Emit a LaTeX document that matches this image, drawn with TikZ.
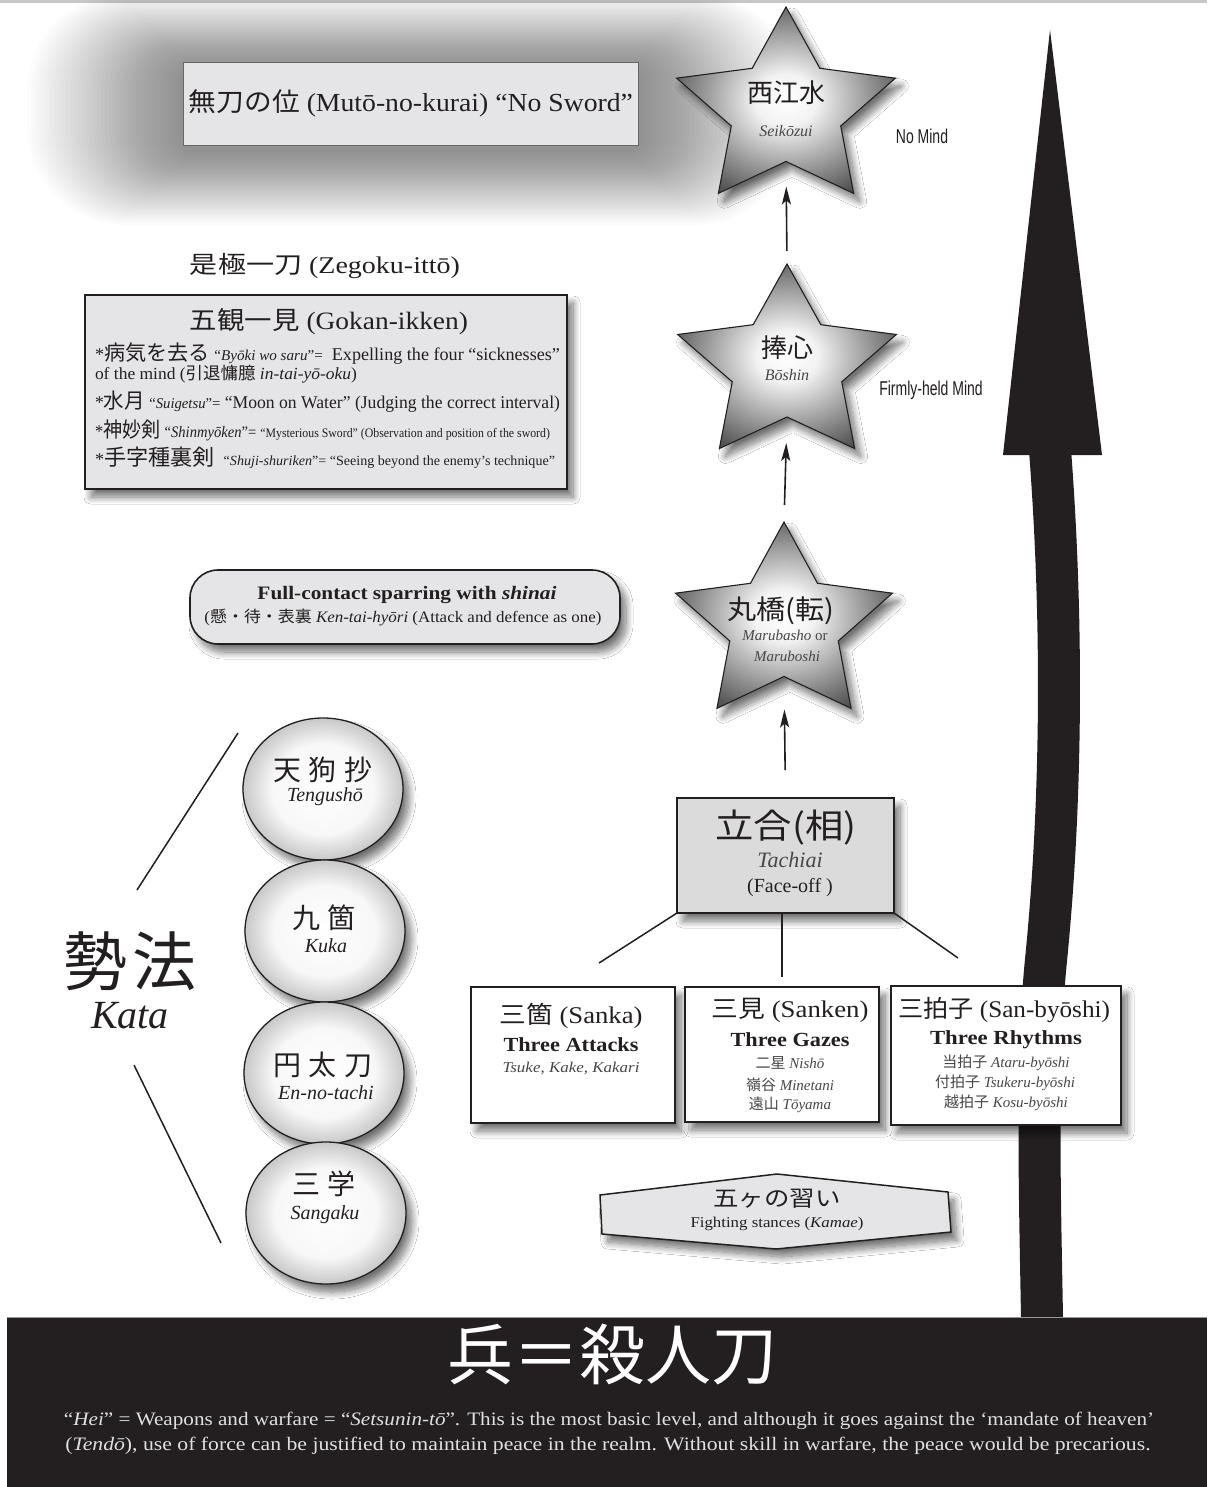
\documentclass[tikz,border=0pt]{standalone}
\usepackage{fontspec}
\setmainfont{Liberation Serif}
\newfontfamily\jp{Noto Sans CJK JP}
\newfontfamily\condsans[FakeStretch=0.7]{Liberation Sans}
\usetikzlibrary{shapes.geometric,shadows.blur,arrows.meta}

\newcommand\fs[1]{\fontsize{#1}{#1}\selectfont}
% stretch a line horizontally to a given width, keeping its height
\newcommand\wfit[2]{\resizebox{#1}{\height}{#2}}

\definecolor{ink}{RGB}{35,31,32}
\definecolor{boxgray}{RGB}{229,229,231}
\definecolor{capgray}{RGB}{224,224,224}

\pgfdeclareradialshading{starshade}{\pgfpoint{0bp}{0bp}}{%
  color(0bp)=(white); color(7bp)=(white!95!black); color(17bp)=(black!35);
  color(28bp)=(black!68); color(40bp)=(black!86); color(50bp)=(black!92)}
\pgfdeclareradialshading{ballshade}{\pgfpoint{0bp}{0bp}}{%
  color(0bp)=(white); color(16bp)=(white!97!black); color(29bp)=(black!30);
  color(39bp)=(black!60); color(46bp)=(black!82); color(50bp)=(black!90)}

% five-pointed star #1 centred at (#2,#3), radii #4 (horizontal) and #5 (vertical)
\newcommand\gemstar[5]{%
  \begin{scope}[shift={(#2,#3)}]
    \begin{scope}[x={(#4pt,0pt)}, y={(0pt,-#5pt)}]
      \shadedraw[starpath] (0,-1) -- (0.294,-0.405) -- (0.951,-0.309) -- (0.476,0.155)
        -- (0.588,0.809) -- (0,0.5) -- (-0.588,0.809) -- (-0.476,0.155)
        -- (-0.951,-0.309) -- (-0.294,-0.405) -- cycle;
      \coordinate (#1top) at (0,-1);
      \coordinate (#1bot) at (0,0.5);
    \end{scope}
  \end{scope}}

\tikzset{
  shad/.style={blur shadow={shadow xshift=6pt, shadow yshift=-8pt,
      shadow blur radius=7pt, shadow blur steps=14, shadow opacity=55}},
  panel/.style={rectangle, draw=ink, line width=1.6pt, fill=boxgray, shad},
  whitebox/.style={rectangle, draw=ink, line width=1.4pt, fill=white, shad},
  starpath/.style={draw=ink, line width=1.1pt, shading=starshade, shad},
  ball/.style={ellipse, draw=ink, line width=1.3pt, shade, shading=ballshade, shad,
      minimum width=160pt, minimum height=142pt},
  link/.style={draw=ink, line width=1.5pt},
  uparrow/.style={draw=ink, line width=1.6pt, -{Stealth[length=18pt,width=9pt,inset=4pt]}},
  sidelabel/.style={font=\condsans\fs{20}},
  roma/.style={text=black!72},
}

\begin{document}
\begin{tikzpicture}[x=1pt, y=-1pt, every node/.style={inner sep=0pt, outer sep=0pt, text=ink}]
\useasboundingbox (0,0) rectangle (1207,1487);
\fill[white] (0,0) rectangle (1207,1487);
\fill[black!22] (0,0) rectangle (1207,3);

% soft halo around the top panel
\foreach \i in {1,...,40}{
  \pgfmathsetmacro\hx{228+3.9*\i}
  \pgfmathsetmacro\hy{42+1.85*\i}
  \pgfmathsetmacro\rc{15+2.1*\i}
  \fill[black, opacity=0.0105, rounded corners=\rc pt] (411-\hx,109-\hy) rectangle (411+\hx,109+\hy);
}

% the rising arrow
\fill[ink] (1050,30) -- (1102,455) -- (1003,455) -- cycle;
\draw[ink, line width=42pt] (1050,450) .. controls (1063,620) and (1062,800) .. (1046,960)
   .. controls (1036,1060) and (1040,1200) .. (1042,1318);

% top panel
\node[rectangle, draw=black!60, line width=1pt, fill=boxgray, minimum width=455pt, minimum height=83pt]
  (muto) at (410.5,104.5) {};
\node (mutot) at (411,103) {\wfit{444pt}{\fs{26}{\jp 無刀の位} (Mutō-no-kurai) “No Sword”}};

% stars
\gemstar{sa}{786}{110}{115}{103}
\gemstar{sb}{787}{366}{115}{102}
\gemstar{sc}{784}{625}{114}{103}
\node (sak) at (786,93) {\fs{26}\jp 西江水};
\node[roma] (sar) at (786,131) {\fs{16}\itshape Seikōzui};
\node (sbk) at (787,348) {\fs{26}\jp 捧心};
\node[roma] (sbr) at (787,375) {\fs{16}\itshape Bōshin};
\node (sck) at (781,611) {\wfit{107pt}{\fs{27}\jp 丸橋(転)}};
\node[roma] (scr) at (785,635) {\fs{15}\textit{Marubasho} or};
\node[roma] (scs) at (787,656) {\fs{15}\itshape Maruboshi};
\node[sidelabel] (nomind) at (922,136) {No Mind};
\node[sidelabel] (firm) at (931,390) {Firmly-held Mind};

% Zegoku-itto
\node (zeg) at (325,266) {\wfit{270pt}{\fs{24}{\jp 是極一刀} (Zegoku-ittō)}};
\node[panel, minimum width=482pt, minimum height=194pt] (gokan) at (326,392) {};
\node (gokt) at (329,322) {\wfit{278pt}{\fs{25}{\jp 五観一見} (Gokan-ikken)}};
\node[anchor=west] (gl1) at (95,354) {\wfit{465pt}{\fs{18}*{\jp\fs{21}病気を去る} {\fs{15}“\textit{Byōki wo saru}”=}\ \ Expelling the four “sicknesses”}};
\node[anchor=west] (gl2) at (95,374) {\wfit{262pt}{\fs{17}of the mind ({\jp 引退慵臆} \textit{in-tai-yō-oku})}};
\node[anchor=west] (gl3) at (95,402) {\wfit{465pt}{\fs{18}*{\jp\fs{21}水月} {\fs{15}“\textit{Suigetsu}”=} “Moon on Water” (Judging the correct interval)}};
\node[anchor=west] (gl4) at (95,430) {\wfit{455pt}{\fs{18}*{\jp\fs{21}神妙剣} {\fs{16}“\textit{Shinmyōken}”=} {\fs{13}“Mysterious Sword” (Observation and position of the sword)}}};
\node[anchor=west] (gl5) at (95,458) {\wfit{460pt}{\fs{18}*{\jp\fs{22}手字種裏剣}\ \ {\fs{14}“\textit{Shuji-shuriken}”= “Seeing beyond the enemy’s technique”}}};

% sparring panel
\node[panel, rounded corners=28pt, minimum width=430pt, minimum height=74pt] (spar) at (405,607) {};
\node (spar1) at (407,595) {\wfit{299pt}{\fs{19}\bfseries Full-contact sparring with \textit{shinai}}};
\node (spar2) at (403,617) {\wfit{397pt}{\fs{16}({\jp 懸・待・表裏} \textit{Ken-tai-hyōri} (Attack and defence as one)}};

% kata column
\node[ball] (ea) at (323,789) {};
\node[ball] (eb) at (325,931) {};
\node[ball] (ec) at (324,1073) {};
\node[ball] (ed) at (326,1213) {};
\node (eak) at (323,770) {\fs{28}\jp 天\kern8pt 狗\kern8pt 抄};
\node (ear) at (325,797) {\fs{20}\itshape Tengushō};
\node (ebk) at (324,918) {\fs{28}\jp 九\kern8pt 箇};
\node (ebr) at (326,946) {\fs{20}\itshape Kuka};
\node (eck) at (323,1065) {\fs{28}\jp 円\kern8pt 太\kern8pt 刀};
\node (ecr) at (326,1093) {\fs{20}\itshape En-no-tachi};
\node (edk) at (324,1184) {\fs{28}\jp 三\kern8pt 学};
\node (edr) at (325,1215) {\fs{20}\itshape Sangaku};
\node (kata) at (130,961) {\fs{64}\jp 勢\kern6pt 法};
\node (katar) at (130,1016) {\fs{40}\itshape Kata};
\coordinate (kt1) at (238,733);
\coordinate (kt2) at (137,890);
\coordinate (kb1) at (134,1065);
\coordinate (kb2) at (221,1243);
\draw[link] (kt1) -- (kt2);
\draw[link] (kb1) -- (kb2);

% face-off and its three branches
\node[panel, fill=black!14, line width=1.5pt, minimum width=217pt, minimum height=115pt] (ta) at (785.5,855.5) {};
\node (tak) at (786,828) {\wfit{141pt}{\fs{34}\jp 立合(相)}};
\node[roma] (tar) at (790,860) {\fs{22}\itshape Tachiai};
\node (tae) at (790,888) {\fs{20}(Face-off )};
\coordinate (brl) at (599,963);
\coordinate (brc) at (782,977);
\coordinate (brr) at (958,958);
\draw[link] (ta.south west) -- (brl);
\draw[link] (ta.south -| brc) -- (brc);
\draw[link] (ta.south east) -- (brr);

\node[whitebox, minimum width=204pt, minimum height=136pt] (bxa) at (573,1055) {};
\node[whitebox, minimum width=194pt, minimum height=135pt] (bxb) at (782,1054.5) {};
\node[whitebox, minimum width=230pt, minimum height=139pt] (bxc) at (1006,1055.5) {};

\node (a1) at (571,1016) {\wfit{143pt}{\fs{24}{\jp 三箇} (Sanka)}};
\node (a2) at (571,1045) {\wfit{135pt}{\fs{20}\bfseries Three Attacks}};
\node[roma] (a3) at (571,1068) {\wfit{137pt}{\fs{15}\itshape Tsuke, Kake, Kakari}};

\node (b1) at (790,1010) {\wfit{157pt}{\fs{24}{\jp 三見} (Sanken)}};
\node (b2) at (790,1040) {\wfit{119pt}{\fs{20}\bfseries Three Gazes}};
\node[roma] (b3) at (790,1063) {\fs{15}{\jp 二星} \textit{Nishō}};
\node[roma] (b4) at (790,1085) {\fs{15}{\jp 嶺谷} \textit{Minetani}};
\node[roma] (b5) at (790,1105) {\fs{15}{\jp 遠山} \textit{Tōyama}};

\node (c1) at (1004,1010) {\wfit{212pt}{\fs{24}{\jp 三拍子} (San-byōshi)}};
\node (c2) at (1006,1040) {\wfit{152pt}{\fs{20}\bfseries Three Rhythms}};
\node[roma] (c3) at (1006,1063) {\fs{15}{\jp 当拍子} \textit{Ataru-byōshi}};
\node[roma] (c4) at (1005,1083) {\fs{15}{\jp 付拍子} \textit{Tsukeru-byōshi}};
\node[roma] (c5) at (1006,1103) {\fs{15}{\jp 越拍子} \textit{Kosu-byōshi}};

% stance plate
\path[draw=ink, line width=1.5pt, fill=boxgray, shad]
  (600,1195) -- (777,1174) -- (948,1192) -- (951,1232) -- (776,1249) -- (602,1234) -- cycle;
\node (st1) at (777,1199) {\wfit{127pt}{\fs{22}\jp 五ヶの習い}};
\node (st2) at (777,1224) {\wfit{173pt}{\fs{15}Fighting stances (\textit{Kamae})}};

% progression arrows
\draw[uparrow, shorten <=13pt, shorten >=25pt] (sbtop) -- (sabot);
\draw[uparrow, shorten <=17pt, shorten >=26pt] (sctop) -- (sbbot);
\draw[uparrow, shorten <=28pt, shorten >=33pt] (ta.north) -- (scbot);

% base band
\fill[ink] (7,1317) rectangle (1207,1487);
\draw[black!40, line width=1pt] (7,1317.5) -- (1207,1317.5);
\node[text=white] (hei) at (612,1355) {\fs{66}\jp 兵＝殺人刀};
\node[text=capgray] (cap1) at (609,1421) {\wfit{1090pt}{\fs{19}“\textit{Hei}” = Weapons and warfare = “\textit{Setsunin-tō}”. This is the most basic level, and although it goes against the ‘mandate of heaven’}};
\node[text=capgray] (cap2) at (608,1446) {\wfit{1085pt}{\fs{19}(\textit{Tendō}), use of force can be justified to maintain peace in the realm. Without skill in warfare, the peace would be precarious.}};
\end{tikzpicture}
\end{document}
